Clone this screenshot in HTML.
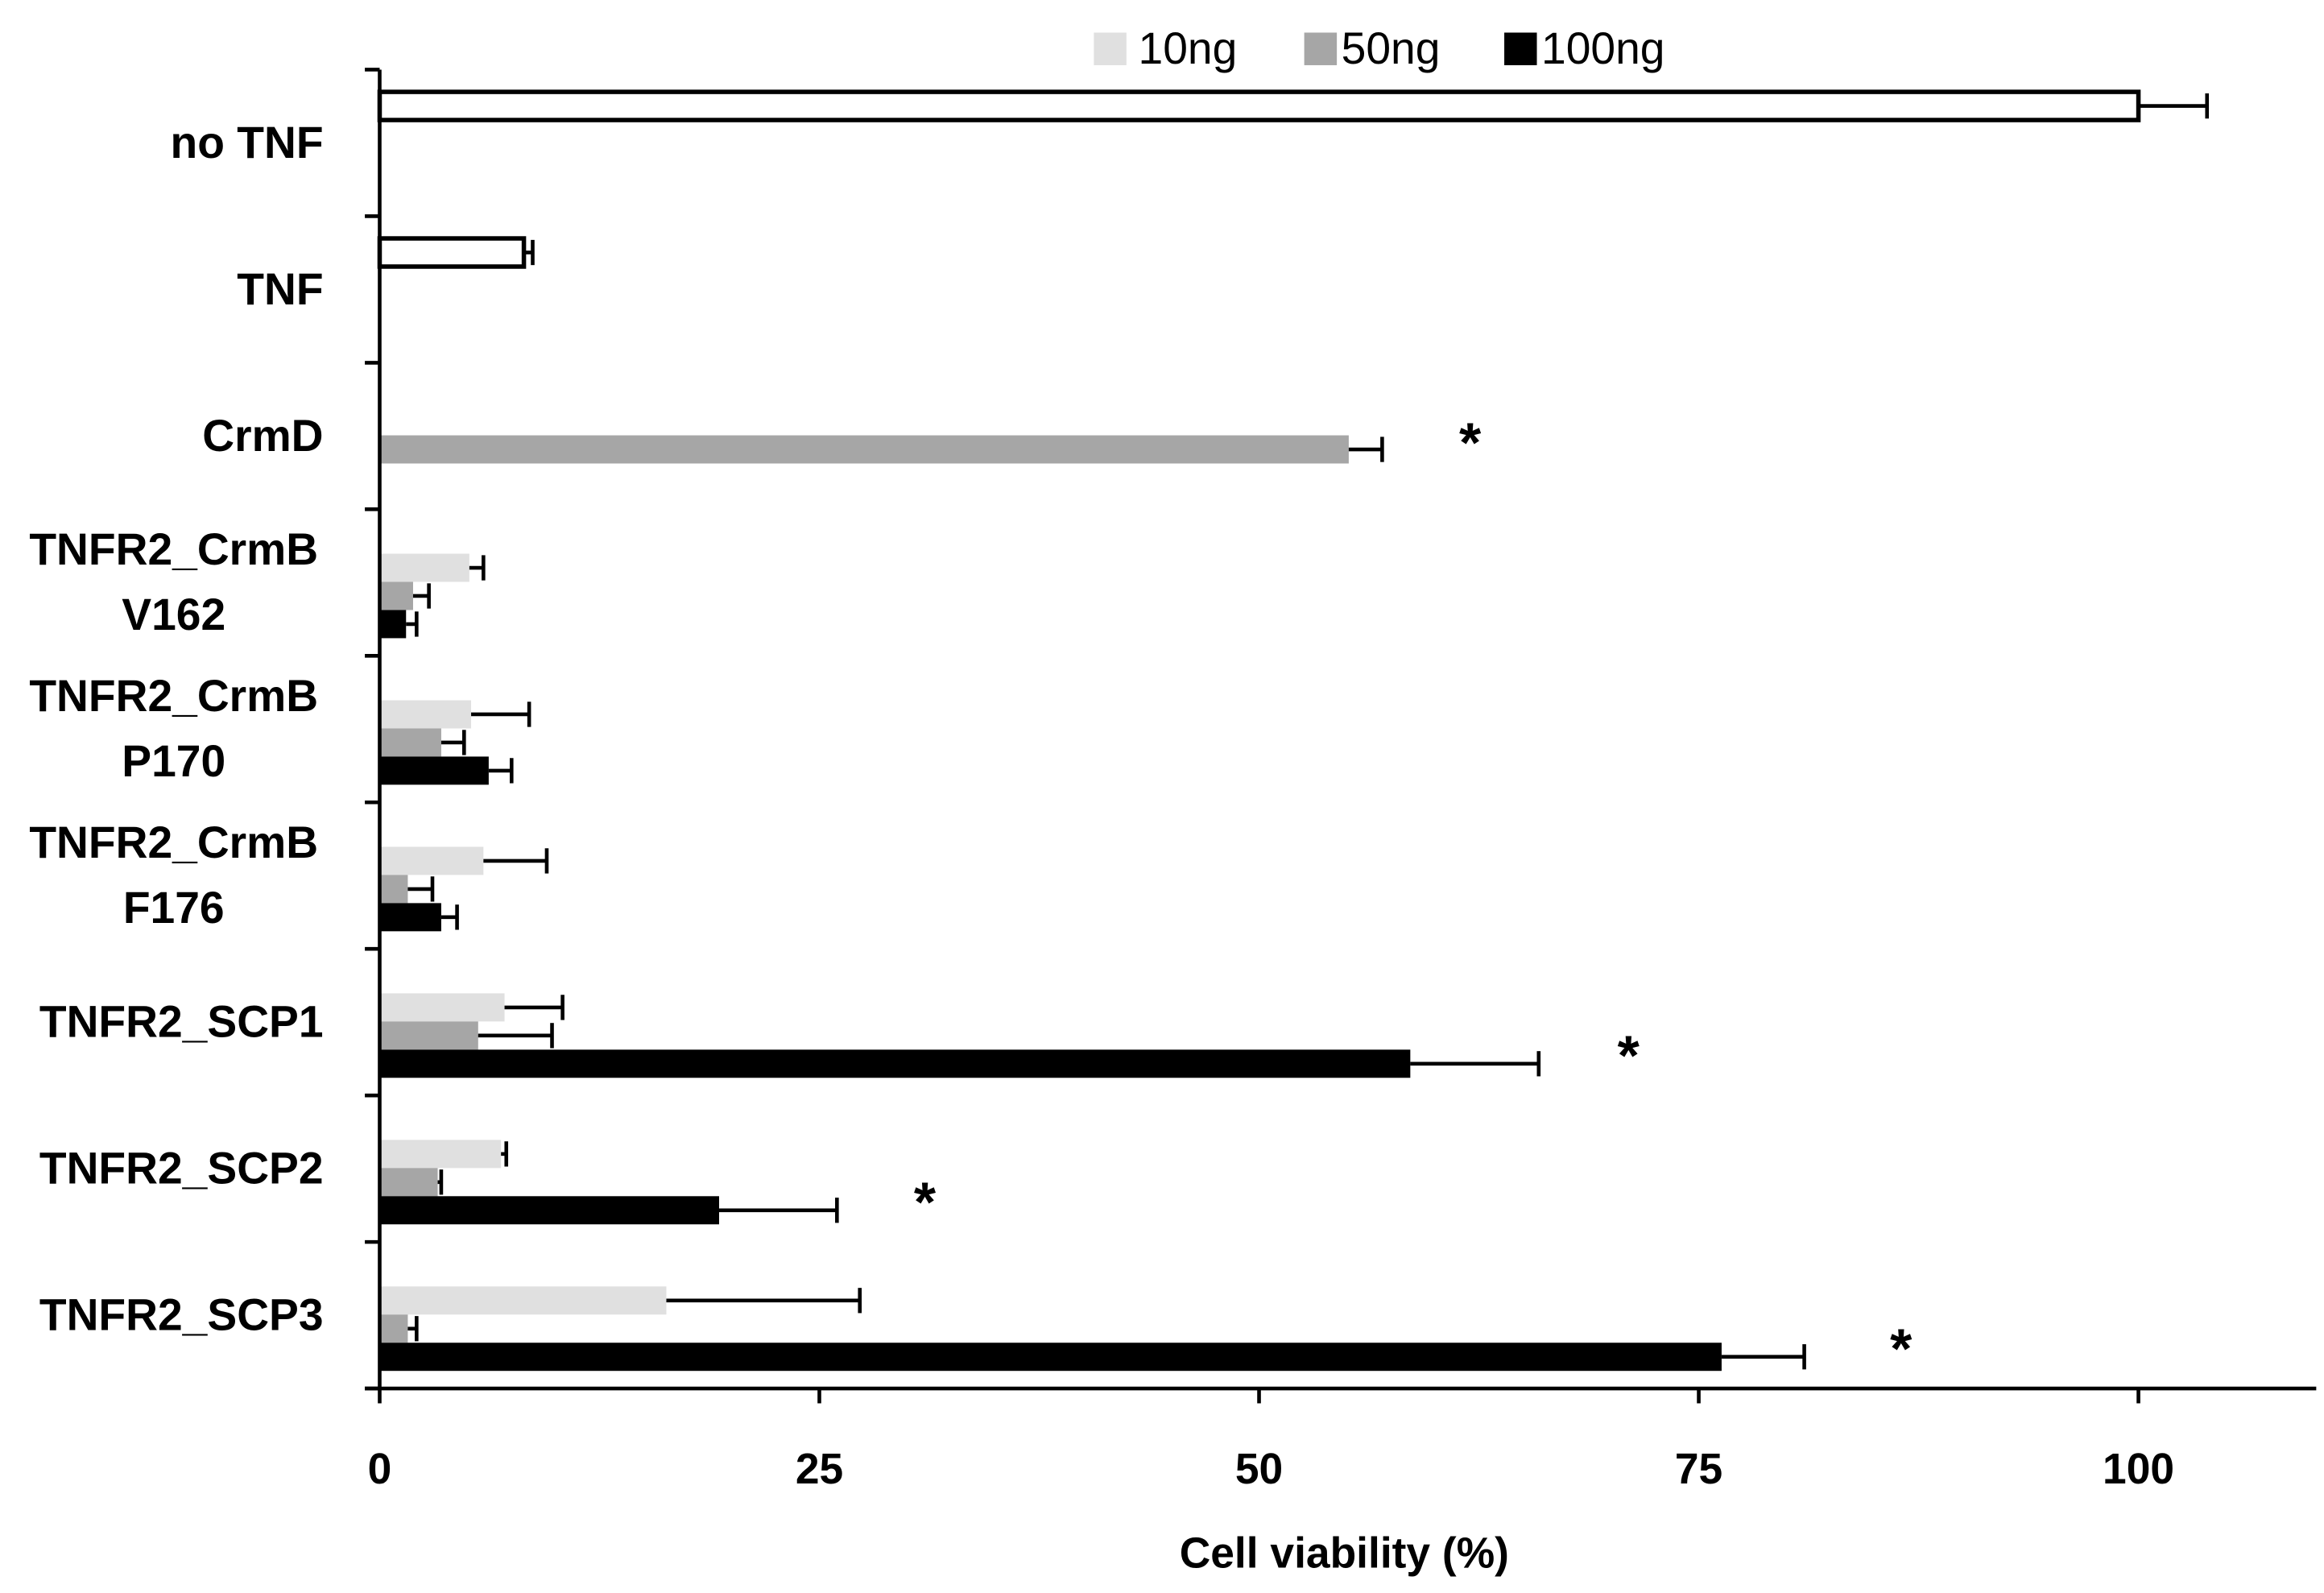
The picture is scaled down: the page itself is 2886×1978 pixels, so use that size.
<!DOCTYPE html>
<html><head><meta charset="utf-8">
<style>html,body{margin:0;padding:0;background:#fff;}svg{display:block;}
text{font-family:"Liberation Sans",sans-serif;font-weight:bold;fill:#000;}</style></head>
<body>
<svg id="chart" width="2886" height="1978" viewBox="0 0 1568 1075" xmlns="http://www.w3.org/2000/svg">
<g id="legend">
  <rect x="738" y="22" width="22" height="22" fill="#e0e0e0"/>
  <text x="768" y="43" font-size="30" style="font-weight:normal">10ng</text>
  <rect x="880" y="22" width="22" height="22" fill="#a6a6a6"/>
  <text x="905" y="43" font-size="30" style="font-weight:normal">50ng</text>
  <rect x="1015" y="22" width="22" height="22" fill="#000"/>
  <text x="1040" y="43" font-size="30" style="font-weight:normal">100ng</text>
</g>
<g id="plot"></g>
<text x="907" y="1058" font-size="29" text-anchor="middle">Cell viability (%)</text>
</svg>
<script>
const categories = ["no TNF","TNF","CrmD","TNFR2_CrmB|V162","TNFR2_CrmB|P170","TNFR2_CrmB|F176","TNFR2_SCP1","TNFR2_SCP2","TNFR2_SCP3"];
// series values (null = no bar); ctrl = white control bars
const ctrl      = [100, 8.2, null, null, null, null, null, null, null];
const ctrlErr   = [103.9, 8.7, null, null, null, null, null, null, null];
const v10       = [null, null, null, 5.1, 5.2, 5.9, 7.1, 6.9, 16.3];
const v10Err    = [null, null, null, 5.9, 8.5, 9.5, 10.4, 7.2, 27.3];
const v50       = [null, null, 55.1, 1.9, 3.5, 1.6, 5.6, 3.3, 1.6];
const v50Err    = [null, null, 57.0, 2.8, 4.8, 3.0, 9.8, 3.5, 2.1];
const v100      = [null, null, null, 1.5, 6.2, 3.5, 58.6, 19.3, 76.3];
const v100Err   = [null, null, null, 2.1, 7.5, 4.4, 65.9, 26.0, 81.0];
const significant = [false, false, true, false, false, false, true, true, true];
const starPos   = [null, null, 62, null, null, null, 71, 31, 86.5];
const xTicks    = [0, 25, 50, 75, 100];

const NS = "http://www.w3.org/2000/svg";
const plot = document.getElementById("plot");
const X0 = 256, XS = (1443 - 256) / 100;
const Y0 = 47, Y1 = 937, BAND = (Y1 - Y0) / categories.length;
function xs(v){ return X0 + v * XS; }
function band(i){ return Y0 + i * BAND; }
function mk(tag, attrs){ const e = document.createElementNS(NS, tag); for (const k in attrs) e.setAttribute(k, attrs[k]); plot.appendChild(e); return e; }

function bar(i, slotOff, val, err, fill, stroke, name){
  if (val === null) return;
  const y = band(i) + slotOff, h = 19;
  const r = mk("rect", {x: X0, y: y, width: xs(val) - X0, height: h, fill: fill, stroke: stroke, "stroke-width": stroke === "none" ? 0 : 3});
  
  
  if (err !== null){
    const l = mk("line", {x1: xs(val), x2: xs(err), y1: y + h/2, y2: y + h/2, stroke: "#000", "stroke-width": 2.5});
    
    
    const c = mk("line", {x1: xs(err), x2: xs(err), y1: y + 1, y2: y + h - 1, stroke: "#000", "stroke-width": 2.5});
    
    
  }
}

categories.forEach((c, i) => {
  const slug = c.replace(/[|_ ]/g, '-').toLowerCase();
  bar(i, 15, ctrl[i], ctrlErr[i], "#fff", "#000", "bar-" + slug + "-control");
  bar(i, 30, v10[i], v10Err[i], "#e0e0e0", "none", "bar-" + slug + "-10ng");
  bar(i, 49, v50[i], v50Err[i], "#a6a6a6", "none", "bar-" + slug + "-50ng");
  bar(i, 68, v100[i], v100Err[i], "#000", "none", "bar-" + slug + "-100ng");
  if (significant[i]){
    const s = mk("text", {x: xs(starPos[i]), y: band(i) + (i === 2 ? 67 : 85), "font-size": 38, "text-anchor": "middle"});
    s.textContent = "*";
    
    
  }
  const parts = c.split("|");
  const cy = band(i) + BAND / 2;
  const t = mk("text", {x: 218, y: 0, "font-size": 30, "text-anchor": parts.length > 1 ? "middle" : "end"});
  
  
  if (parts.length === 1){
    t.setAttribute("y", cy + 10);
    t.textContent = parts[0];
  } else {
    t.setAttribute("x", 117);
    parts.forEach((p, k) => {
      const ts = document.createElementNS(NS, "tspan");
      ts.setAttribute("x", 117);
      ts.setAttribute("y", cy - 12 + k * 44);
      ts.textContent = p;
      t.appendChild(ts);
    });
  }
});

// axes
const ya = mk("line", {x1: X0, x2: X0, y1: Y0, y2: Y1, stroke: "#000", "stroke-width": 2.5});


for (let i = 0; i <= categories.length; i++){
  const tk = mk("line", {x1: X0 - 10, x2: X0, y1: band(i), y2: band(i), stroke: "#000", "stroke-width": 2.5});
  
  
}
const xa = mk("line", {x1: X0 - 10, x2: 1563, y1: Y1, y2: Y1, stroke: "#000", "stroke-width": 2.5});


xTicks.forEach(v => {
  const tk = mk("line", {x1: xs(v), x2: xs(v), y1: Y1, y2: Y1 + 10, stroke: "#000", "stroke-width": 2.5});
  
  
  const tl = mk("text", {x: xs(v), y: 1001, "font-size": 29, "text-anchor": "middle"});
  tl.textContent = v;
  
  
});
</script>
</body></html>
